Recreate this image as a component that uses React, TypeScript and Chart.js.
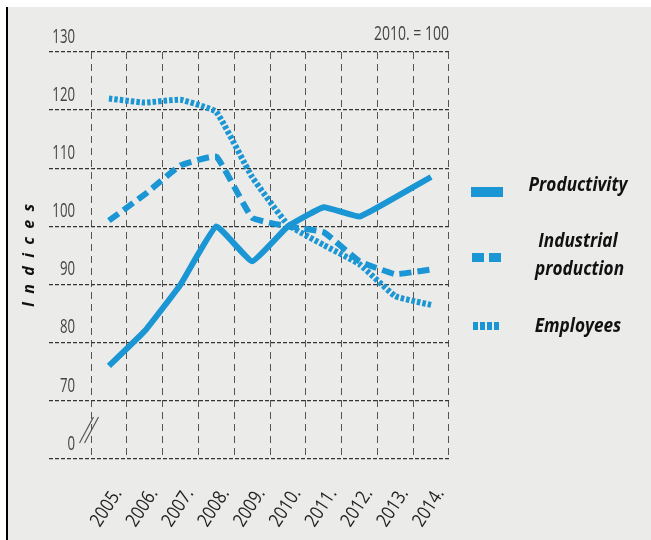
import React, { useEffect, useRef } from 'react';
import { Chart, registerables } from 'chart.js';

Chart.register(...registerables);

const years = ['2005.', '2006.', '2007.', '2008.', '2009.', '2010.', '2011.', '2012.', '2013.', '2014.'];
const productivity = [76, 82, 90, 100, 94, 100, 103.3, 101.7, 105, 108.5];
const industrialProduction = [101, 105.5, 110.5, 112, 101.5, 100, 99, 94, 91.8, 92.6];
const employees = [122, 121.3, 121.8, 119.7, 108.5, 100.3, 96.8, 93.5, 88, 86.5];
const yTickValues = [60, 70, 80, 90, 100, 110, 120, 130];
const yTickLabels = ['0', '70', '80', '90', '100', '110', '120', '130'];
const seriesNames = ['Productivity', 'Industrial production', 'Employees'];
const baseNote = '2010. = 100';
const yTitle = 'I  n  d  i  c  e  s';

const BLUE = '#1a96d4';
const SANS = '"Open Sans", "Noto Sans", sans-serif';

// draw text of a Chart.js element horizontally condensed (still real canvas text)
function squeezeDraw(target: any, method: string, factor: number) {
  if (!target || target['__sq_' + method]) return;
  const orig = target[method];
  target['__sq_' + method] = true;
  target[method] = function (...args: any[]) {
    const ctx = this.ctx;
    const protoFill = CanvasRenderingContext2D.prototype.fillText;
    ctx.fillText = function (text: string, x: number, y: number, mw?: number) {
      this.save();
      this.translate(x, y);
      this.scale(factor, 1);
      if (mw === undefined) protoFill.call(this, text, 0, 0);
      else protoFill.call(this, text, 0, 0, mw / factor);
      this.restore();
    };
    try {
      return orig.apply(this, args);
    } finally {
      delete ctx.fillText;
    }
  };
}

const squeezePlugin = {
  id: 'squeeze',
  beforeDraw(chart: any) {
    squeezeDraw(chart.scales.y, 'drawLabels', 0.66);
    squeezeDraw(chart.scales.x, 'drawLabels', 0.86);
    squeezeDraw(chart.titleBlock, 'draw', 0.7);
  },
};

const breakPlugin = {
  id: 'axisBreak',
  afterDraw(chart: any) {
    const { ctx, chartArea, scales } = chart;
    const ys = scales.y;
    const yA = ys.getPixelForValue(yTickValues[0]);
    const yB = ys.getPixelForValue(yTickValues[1]);
    const cy = (yA + yB) / 2;
    const cx = chartArea.left - 2;
    ctx.save();
    ctx.strokeStyle = '#555';
    ctx.lineWidth = 1.2;
    for (const off of [-2.5, 2.5]) {
      ctx.beginPath();
      ctx.moveTo(cx + off - 7, cy + 13);
      ctx.lineTo(cx + off + 7, cy - 13);
      ctx.stroke();
    }
    ctx.restore();
  },
};

export default function App() {
  const ref = useRef<HTMLCanvasElement>(null);

  useEffect(() => {
    document.body.style.overflow = 'hidden';
    if (!ref.current) return;
    const common = { borderColor: BLUE, borderWidth: 6, pointRadius: 0, tension: 0.1, borderCapStyle: 'butt' };
    const chart = new Chart(ref.current, {
      type: 'line',
      data: {
        labels: years,
        datasets: [
          { ...common, label: seriesNames[0], data: productivity },
          { ...common, label: seriesNames[1], data: industrialProduction, borderDash: [12, 6] },
          { ...common, label: seriesNames[2], data: employees, borderDash: [3.5, 2] },
        ],
      },
      options: {
        animation: false,
        responsive: false,
        maintainAspectRatio: false,
        layout: { padding: { left: 0, right: 202, top: 0, bottom: 0 } },
        plugins: {
          legend: { display: false },
          tooltip: { enabled: false },
          title: {
            display: true,
            text: baseNote,
            align: 'end',
            fullSize: false,
            color: '#444',
            font: { family: SANS, size: 20, weight: 'normal' },
            padding: { top: 15, bottom: 6 },
          },
        },
        scales: {
          x: {
            type: 'category',
            offset: true,
            grid: { offset: true, color: '#555', lineWidth: 1, drawTicks: false },
            border: { display: false, dash: [7, 5] },
            ticks: {
              minRotation: 57,
              maxRotation: 57,
              autoSkip: false,
              color: '#222',
              font: { family: SANS, size: 19 },
              padding: 25,
              labelOffset: 9,
            },
            afterFit: (s: any) => {
              s.height = 81;
            },
          },
          y: {
            min: yTickValues[0],
            max: yTickValues[yTickValues.length - 1],
            afterBuildTicks: (s: any) => {
              s.ticks = yTickValues.map((v) => ({ value: v }));
            },
            ticks: {
              callback: (v: any) => yTickLabels[yTickValues.indexOf(Number(v))] ?? '',
              color: '#444',
              font: { family: SANS, size: 20 },
              padding: -26,
              labelOffset: -15,
            },
            grid: {
              color: '#333',
              lineWidth: 1.3,
              tickLength: 42,
              tickBorderDash: [4, 2],
              tickColor: '#333',
            },
            border: { display: false, dash: [4, 2] },
            title: {
              display: true,
              text: yTitle,
              color: '#111',
              font: { family: SANS, size: 16, weight: 'bold', style: 'italic' },
              padding: { top: 12, bottom: 0 },
            },
            afterFit: (s: any) => {
              s.width = 83;
            },
          },
        },
      },
      plugins: [squeezePlugin, breakPlugin],
    } as any);
    return () => chart.destroy();
  }, []);

  const legendText: React.CSSProperties = {
    position: 'absolute',
    left: 490,
    width: 160,
    textAlign: 'center',
    fontFamily: SANS,
    fontWeight: 'bold',
    fontStyle: 'italic',
    fontSize: 20,
    lineHeight: '28px',
    color: '#111',
    transform: 'scaleX(0.86)',
    transformOrigin: '50% 50%',
  };

  return (
    <div
      style={{
        position: 'fixed',
        left: 6,
        top: 7,
        width: 643,
        height: 533,
        borderLeft: '2px solid #000',
        background: '#ebebea',
        overflow: 'hidden',
      }}
    >
      <canvas ref={ref} width={643} height={533} style={{ position: 'absolute', left: 0, top: 0 }} />
      <div style={{ position: 'absolute', left: 463, top: 180, width: 32, height: 10, background: BLUE }} />
      <div style={{ position: 'absolute', left: 464, top: 246, width: 12, height: 9, background: BLUE }} />
      <div style={{ position: 'absolute', left: 481, top: 246, width: 12, height: 9, background: BLUE }} />
      {[0, 1, 2, 3].map((i) => (
        <div
          key={i}
          style={{ position: 'absolute', left: 465 + i * 7, top: 315, width: 5, height: 8, background: BLUE }}
        />
      ))}
      <div style={{ ...legendText, top: 163 }}>{seriesNames[0]}</div>
      <div style={{ ...legendText, top: 219, left: 520, width: 100 }}>{seriesNames[1]}</div>
      <div style={{ ...legendText, top: 304 }}>{seriesNames[2]}</div>
    </div>
  );
}
